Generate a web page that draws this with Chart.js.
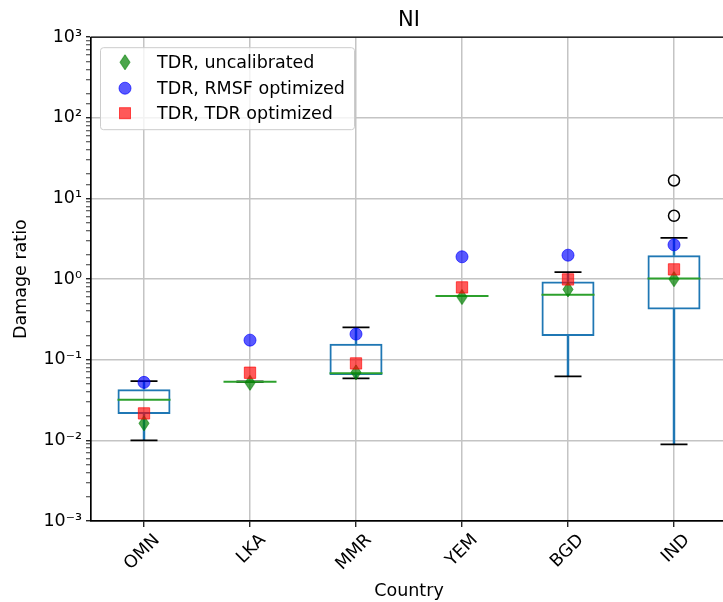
<!DOCTYPE html>
<html>
<head>
<meta charset="utf-8">
<script src="https://cdn.jsdelivr.net/npm/chart.js@4.4.1/dist/chart.umd.min.js"></script>
<style>
  html, body { margin:0; padding:0; overflow:hidden; background:#fff; }
  #wrap { width:735px; height:602px; }
</style>
</head>
<body>
<div id="wrap"><canvas id="chart" width="735" height="602"></canvas></div>
<script>
// ================== DATA ==================
const countries = ["OMN","LKA","MMR","YEM","BGD","IND"];

// box plot stats per country
const whiskerLow  = [0.0100, 0.0533, 0.0588, 0.616, 0.0622, 0.0089];
const boxQ1       = [0.0212, 0.0533, 0.0646, 0.616, 0.1965, 0.421];
const boxMedian   = [0.0319, 0.0533, 0.0678, 0.616, 0.639, 1.02];
const boxQ3       = [0.0430, 0.0533, 0.158, 0.616, 0.936, 1.97];
const whiskerHigh = [0.0544, 0.0533, 0.252, 0.616, 1.22, 3.25];
const outlierCountry = ["IND","IND"];
const outlierValues  = [16.7, 6.1];

// marker series
const tdrUncalibrated = [0.0163, 0.0518, 0.0697, 0.600, 0.745, 1.00];
const tdrRmsfOpt      = [0.0524, 0.175, 0.208, 1.89, 1.98, 2.66];
const tdrTdrOpt       = [0.0216, 0.069, 0.090, 0.789, 0.99, 1.32];

const seriesNames = ["TDR, uncalibrated","TDR, RMSF optimized","TDR, TDR optimized"];

// ================== STYLE ==================
const FONT = "DejaVu Sans";
const BOX_BLUE = "#1f77b4";
const GREEN = "rgba(0,128,0,0.7)";
const BLUE = "rgba(0,0,255,0.65)";
const RED = "rgba(255,0,0,0.65)";

// thin diamond marker (matplotlib "d")
function makeDiamond(){
  const c = document.createElement("canvas");
  c.width = 12; c.height = 17;
  const g = c.getContext("2d");
  g.beginPath();
  g.moveTo(6,1); g.lineTo(11,8.5); g.lineTo(6,16); g.lineTo(1,8.5); g.closePath();
  g.fillStyle = GREEN; g.fill();
  g.strokeStyle = GREEN; g.lineWidth = 1; g.stroke();
  return c;
}
const diamond = makeDiamond();

const supMap = {"-":"\u207B","0":"\u2070","1":"\u00B9","2":"\u00B2","3":"\u00B3"};
function isDecade(v){ const e = Math.log10(v); return Math.abs(e-Math.round(e)) < 1e-6; }

// ================== PLUGINS ==================
const framePlugin = {
  id:"frame",
  afterDatasetsDraw(chart){
    const {ctx, chartArea:a} = chart;
    ctx.save();
    ctx.strokeStyle = "#000"; ctx.lineWidth = 1.2;
    ctx.strokeRect(a.left, a.top, a.right-a.left, a.bottom-a.top);
    ctx.restore();
  }
};

const legendPlugin = {
  id:"boxLegend",
  afterDraw(chart){
    const ctx = chart.ctx;
    const a = chart.chartArea;
    const x0 = a.left+9.5, y0 = a.top+10.5, w = 254, h = 82;
    ctx.save();
    ctx.beginPath();
    ctx.roundRect(x0, y0, w, h, 3);
    ctx.fillStyle = "rgba(255,255,255,0.8)"; ctx.fill();
    ctx.strokeStyle = "#cccccc"; ctx.lineWidth = 1; ctx.stroke();

    const mx = a.left+34, rows = [a.top+25, a.top+51, a.top+76];
    // diamond
    ctx.drawImage(diamond, mx-diamond.width/2, rows[0]-diamond.height/2);
    // circle
    ctx.beginPath(); ctx.arc(mx, rows[1], 6, 0, Math.PI*2);
    ctx.fillStyle = BLUE; ctx.fill(); ctx.strokeStyle = BLUE; ctx.lineWidth = 1; ctx.stroke();
    // square
    ctx.fillStyle = RED; ctx.strokeStyle = RED;
    ctx.fillRect(mx-5.5, rows[2]-5.5, 11, 11); ctx.strokeRect(mx-5.5, rows[2]-5.5, 11, 11);

    ctx.fillStyle = "#000";
    ctx.font = "17.5px '"+FONT+"'";
    ctx.textBaseline = "middle"; ctx.textAlign = "left";
    seriesNames.forEach((s,i)=>ctx.fillText(s, a.left+66, rows[i]+1));
    ctx.restore();
  }
};

// ================== DATASETS ==================
const boxData = countries.map((_,i)=> boxQ3[i]>boxQ1[i] ? [boxQ1[i], boxQ3[i]] : null);
const whiskLoData = countries.map((_,i)=> boxQ1[i]>whiskerLow[i] ? [whiskerLow[i], boxQ1[i]] : null);
const whiskHiData = countries.map((_,i)=> whiskerHigh[i]>boxQ3[i] ? [boxQ3[i], whiskerHigh[i]] : null);
const outlierData = outlierValues.map((v,i)=>({x:outlierCountry[i], y:v}));

const pointSet = (data, extra) => Object.assign({
  type:"line", data, showLine:false, borderWidth:1
}, extra);

const ctx = document.getElementById("chart").getContext("2d");
window.niChart = new Chart(ctx, {
  type:"bar",
  data:{
    labels: countries,
    datasets:[
      { label:"box", data: boxData, grouped:false, order:6,
        backgroundColor:"rgba(0,0,0,0)", borderColor:BOX_BLUE, borderWidth:2,
        borderSkipped:false, barPercentage:0.5, categoryPercentage:1.0 },
      { label:"whiskLo", data: whiskLoData, grouped:false, order:7,
        backgroundColor:BOX_BLUE, borderWidth:0, barThickness:1.8 },
      { label:"whiskHi", data: whiskHiData, grouped:false, order:7,
        backgroundColor:BOX_BLUE, borderWidth:0, barThickness:1.8 },
      pointSet(whiskerLow, { label:"capLo", order:5, pointStyle:"line", pointRadius:13.5,
        borderColor:"#000", pointBorderWidth:1.8 }),
      pointSet(whiskerHigh, { label:"capHi", order:5, pointStyle:"line", pointRadius:13.5,
        borderColor:"#000", pointBorderWidth:1.8 }),
      pointSet(boxMedian, { label:"median", order:4, pointStyle:"line", pointRadius:26.5,
        borderColor:"#2ca02c", pointBorderWidth:2 }),
      pointSet(outlierData, { label:"fliers", order:4, pointStyle:"circle", pointRadius:5.5,
        backgroundColor:"rgba(0,0,0,0)", borderColor:"#000", pointBorderWidth:1.5 }),
      pointSet(tdrUncalibrated, { label:seriesNames[0], order:2, pointStyle:diamond,
        backgroundColor:GREEN, borderColor:GREEN }),
      pointSet(tdrRmsfOpt, { label:seriesNames[1], order:1, pointStyle:"circle", pointRadius:6,
        backgroundColor:BLUE, borderColor:BLUE }),
      pointSet(tdrTdrOpt, { label:seriesNames[2], order:0, pointStyle:"rect", pointRadius:8,
        backgroundColor:RED, borderColor:RED })
    ]
  },
  options:{
    responsive:false,
    animation:false,
    devicePixelRatio:1,
    layout:{ autoPadding:false, padding:{ left:0, right:8, top:0, bottom:0 } },
    plugins:{
      legend:{ display:false },
      tooltip:{ enabled:false },
      title:{ display:true, text:"NI", fullSize:false, color:"#000",
        font:{ family:FONT, size:21, weight:"normal" }, padding:{ top:8, bottom:4 } }
    },
    scales:{
      x:{
        offset:true,
        grid:{ offset:false, color:"#c4c4c4", lineWidth:1.5, tickColor:"#000", tickLength:6, tickWidth:1.2 },
        border:{ color:"#000", width:1.2 },
        ticks:{ color:"#000", font:{ family:FONT, size:17.5 }, minRotation:45, maxRotation:45,
          labelOffset:13, padding:3, autoSkip:false },
        title:{ display:true, text:"Country", color:"#000", font:{ family:FONT, size:17.5 },
          padding:{ top:0, bottom:0 } },
        afterFit(s){ s.height = 81; s.paddingLeft = 0; s.paddingRight = 0; }
      },
      y:{
        type:"logarithmic",
        min:1e-3, max:1e3,
        grid:{
          color:c=> isDecade(c.tick.value) ? "#c4c4c4" : "rgba(0,0,0,0)",
          lineWidth:1.5,
          tickColor:"#000",
          tickWidth:c=> isDecade(c.tick.value) ? 1.2 : 0.8,
          tickLength:5
        },
        border:{ color:"#000", width:1.2 },
        ticks:{
          autoSkip:false, color:"#000", padding:4,
          font:{ family:FONT, size:17.5 },
          callback:(v)=>{
            if(!isDecade(v)) return "";
            const e = String(Math.round(Math.log10(v)));
            return "10" + e.split("").map(ch=>supMap[ch]).join("");
          }
        },
        title:{ display:true, text:"Damage ratio", color:"#000", font:{ family:FONT, size:17.5 },
          padding:{ top:11, bottom:0 } },
        afterFit(s){ s.width = 91; }
      }
    }
  },
  plugins:[framePlugin, legendPlugin]
});
</script>
</body>
</html>
